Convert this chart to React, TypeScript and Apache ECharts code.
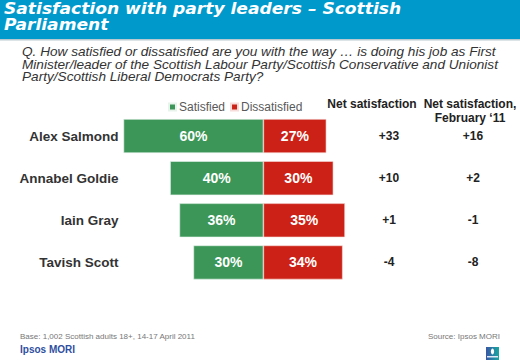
import React, { useEffect, useRef } from "react";
import * as echarts from "echarts";

const leaders = ["Alex Salmond", "Annabel Goldie", "Iain Gray", "Tavish Scott"];
const satisfied = [60, 40, 36, 30];
const dissatisfied = [27, 30, 35, 34];
const netSatisfaction = ["+33", "+10", "+1", "-4"];
const netFeb11 = ["+16", "+2", "-1", "-8"];

const titleLines = ["Satisfaction with party leaders – Scottish", "Parliament"];
const questionLines = [
  "Q. How satisfied or dissatisfied are you with the way … is doing his job as First",
  "Minister/leader of the Scottish Labour Party/Scottish Conservative and Unionist",
  "Party/Scottish Liberal Democrats Party?",
];
const baseNote = "Base: 1,002 Scottish adults 18+, 14-17 April 2011";
const sourceNote = "Source: Ipsos MORI";

const GREEN = "#3b9657";
const RED = "#cc2116";
const BLUE = "#0099cc";

export default function App() {
  const ref = useRef<HTMLDivElement>(null);
  useEffect(() => {
    document.body.style.margin = "0";
    const chart = echarts.init(ref.current!, null, { renderer: "svg" });
    const font = "'Liberation Sans', Arial, sans-serif";
    chart.setOption({
      animation: false,
      backgroundColor: "#ffffff",
      textStyle: { fontFamily: font },
      legend: {
        data: ["Satisfied", "Dissatisfied"],
        left: 163,
        top: 96,
        icon: "rect",
        itemWidth: 7,
        itemHeight: 7,
        itemGap: 5,
        textStyle: { fontSize: 12, color: "#595959", fontFamily: font, padding: [0, 0, 0, -2] },
      },
      grid: { left: 123.5, right: 175, top: 115, bottom: 78.5 },
      xAxis: {
        type: "value",
        min: -60,
        max: 35,
        show: false,
      },
      yAxis: [
        {
          type: "category",
          data: leaders,
          inverse: true,
          axisLine: { show: false },
          axisTick: { show: false },
          axisLabel: { fontSize: 13.5, fontWeight: "bold", color: "#333", margin: 5, fontFamily: font },
        },
        {
          type: "category",
          data: leaders,
          inverse: true,
          position: "right",
          axisLine: { show: false },
          axisTick: { show: false },
          axisLabel: {
            margin: 4,
            formatter: (_v: string, i: number) => `{a|${netSatisfaction[i]}}{b|${netFeb11[i]}}`,
            rich: {
              a: { width: 80, align: "center", fontSize: 12, fontWeight: "bold", color: "#222", fontFamily: font },
              b: { width: 88, align: "center", fontSize: 12, fontWeight: "bold", color: "#222", fontFamily: font },
            },
          },
        },
      ],
      series: [
        {
          name: "Satisfied",
          type: "bar",
          data: satisfied.map((v) => -v),
          barWidth: 34,
          barGap: "-100%",
          itemStyle: { color: GREEN, borderColor: "#e8f3ec", borderWidth: 0.6 },
          label: {
            show: true,
            position: "inside",
            formatter: (p: any) => `${Math.abs(p.value)}%`,
            color: "#fff",
            fontWeight: "bold",
            fontSize: 14,
            fontFamily: font,
          },
        },
        {
          name: "Dissatisfied",
          type: "bar",
          data: dissatisfied,
          barWidth: 34,
          itemStyle: { color: RED, borderColor: "#f6dcda", borderWidth: 0.6 },
          label: {
            show: true,
            position: "inside",
            formatter: (p: any) => `${p.value}%`,
            color: "#fff",
            fontWeight: "bold",
            fontSize: 14,
            fontFamily: font,
          },
        },
      ],
      graphic: [
        { type: "rect", shape: { x: 0, y: 0, width: 520, height: 39 }, style: { fill: BLUE } },
        { type: "rect", shape: { x: 0, y: 39, width: 520, height: 1.5 }, style: { fill: "#b9c9cf" } },
        ...titleLines.map((t, i) => ({
          type: "text",
          x: 4,
          y: 1 + i * 16,
          scaleX: 1.07,
          style: {
            text: t,
            fill: "#ffffff",
            fontSize: 16,
            fontWeight: "bold",
            fontStyle: "italic",
            fontFamily: "'DejaVu Sans', sans-serif",
            verticalAlign: "top",
          },
        })),
        ...questionLines.map((t, i) => ({
          type: "text",
          x: 22,
          y: 45.5 + i * 12.5,
          scaleX: 1.09,
          style: {
            text: t,
            fill: "#333333",
            fontSize: 12.5,
            fontStyle: "italic",
            fontFamily: font,
            verticalAlign: "top",
          },
        })),
        {
          type: "text",
          x: 372,
          y: 98,
          style: {
            text: "Net satisfaction",
            fill: "#222",
            fontSize: 12,
            fontWeight: "bold",
            fontFamily: font,
            align: "center",
            verticalAlign: "top",
          },
        },
        {
          type: "text",
          x: 470,
          y: 97,
          style: {
            text: "Net satisfaction,\nFebruary \u201811",
            fill: "#222",
            fontSize: 12,
            fontWeight: "bold",
            fontFamily: font,
            align: "center",
            verticalAlign: "top",
            lineHeight: 14,
          },
        },
        {
          type: "text",
          x: 20,
          y: 332,
          style: { text: baseNote, fill: "#777", fontSize: 8, fontFamily: font, verticalAlign: "top" },
        },
        {
          type: "text",
          x: 500,
          y: 332,
          style: { text: sourceNote, fill: "#777", fontSize: 8, fontFamily: font, align: "right", verticalAlign: "top" },
        },
        {
          type: "text",
          x: 20,
          y: 344,
          style: { text: "Ipsos MORI", fill: "#2f4f9f", fontSize: 10, fontWeight: "bold", fontFamily: font, verticalAlign: "top" },
        },
        {
          type: "rect",
          shape: { x: 486, y: 347, width: 13, height: 13 },
          style: {
            fill: new echarts.graphic.LinearGradient(0, 0, 1, 0, [
              { offset: 0, color: "#3a55a6" },
              { offset: 1, color: "#16a8a0" },
            ]),
          },
        },
        { type: "ellipse", shape: { cx: 492.5, cy: 351.5, rx: 1.6, ry: 3 }, style: { fill: "#ffffff" } },
        { type: "rect", shape: { x: 487, y: 356, width: 11, height: 1.5 }, style: { fill: "#dfe8f5" } },
      ],
    });
    return () => chart.dispose();
  }, []);
  return <div ref={ref} style={{ width: 520, height: 362, position: "absolute", left: 0, top: 0 }} />;
}
